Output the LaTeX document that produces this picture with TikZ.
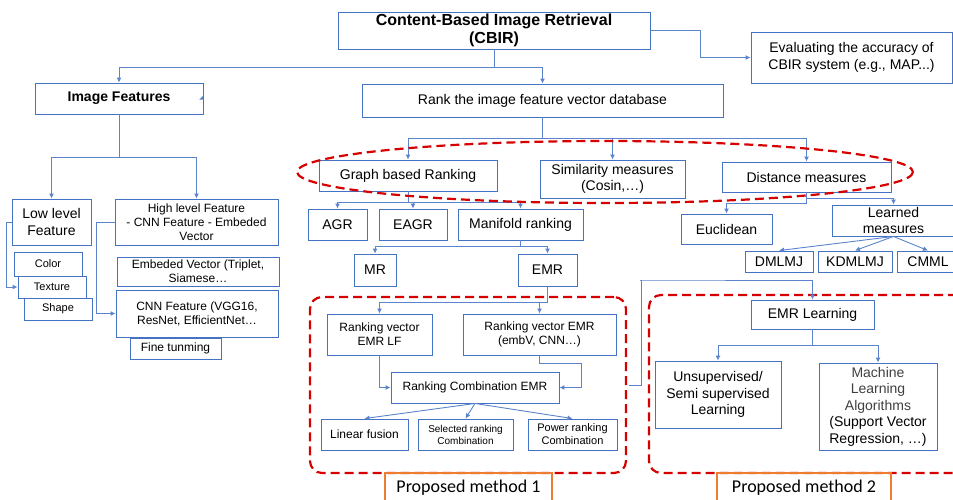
\documentclass[tikz,border=0pt]{standalone}
\usepackage{fontspec}
\setmainfont{Liberation Sans}
\newfontfamily\calibri{Carlito}
\usetikzlibrary{arrows.meta, positioning, shapes}
\usepackage{xcolor}

\definecolor{boxblue}{HTML}{4472C4}
\definecolor{linkblue}{HTML}{5B84CC}
\definecolor{dashred}{HTML}{D60000}
\definecolor{frameorange}{HTML}{ED7D31}
\definecolor{softgray}{HTML}{404040}

\tikzset{
  box/.style={draw=boxblue, line width=0.9pt, align=center, inner sep=1pt, fill=white,
    font=\fontsize{14}{16.5}\selectfont},
  mediumtext/.style={font=\fontsize{12}{14}\selectfont},
  smalltext/.style={font=\fontsize{11}{13}\selectfont},
  link/.style={draw=linkblue, line width=0.9pt, -{Latex[length=5pt,width=5pt]}},
  redframe/.style={draw=dashred, line width=2.2pt, dash pattern=on 9pt off 5pt, rounded corners=12pt},
  methodlabel/.style={draw=frameorange, line width=2pt, inner sep=0pt,
    font=\calibri\fontsize{18}{20}\selectfont},
}

\begin{document}
\begin{tikzpicture}[x=1pt,y=-1pt]
    \useasboundingbox (0,0) rectangle (953,499);
    \clip (0,0) rectangle (953,499);

    % top level
    \node[box, minimum width=312, minimum height=37, font=\fontsize{16}{18}\selectfont\bfseries] (cbir) at (494,30.5) {Content-Based Image Retrieval\\(CBIR)};
    \node[box, minimum width=201, minimum height=51] (eval) at (851.5,57.5) {Evaluating the accuracy of\\CBIR system (e.g., MAP...)};
    \node[box, minimum width=168, minimum height=31, font=\fontsize{14}{16}\selectfont\bfseries] (imgfeat) at (119,98.5) {Image Features};
    \node[box, minimum width=361, minimum height=33] (rank) at (542.5,100.5) {Rank the image feature vector database};

    % image features
    \node[box, minimum width=79, minimum height=46] (low) at (51.5,222) {Low level\\Feature};
    \node[box, minimum width=163, minimum height=46, mediumtext] (high) at (196.5,222) {High level Feature\\- CNN Feature - Embeded\\Vector};
    \node[box, minimum width=68, minimum height=24, smalltext] (color) at (48,264) {Color};
    \node[box, minimum width=68, minimum height=22, smalltext] (texture) at (52,287) {Texture};
    \node[box, minimum width=68, minimum height=22, smalltext] (shape) at (58,309) {Shape};
    \node[box, minimum width=162, minimum height=29, mediumtext] (embv) at (198,271.5) {Embeded Vector (Triplet,\\Siamese…};
    \node[box, minimum width=162, minimum height=47, mediumtext] (cnnf) at (197,313.5) {CNN Feature (VGG16,\\ResNet, EfficientNet…};
    \node[box, minimum width=91, minimum height=21, mediumtext] (fine) at (175.5,348.5) {Fine tunming};

    % ranking
    \node[box, minimum width=178, minimum height=31] (graph) at (408,175.5) {Graph based Ranking};
    \node[box, minimum width=145, minimum height=38] (simil) at (612.5,179) {Similarity measures\\(Cosin,…)};
    \node[box, minimum width=169, minimum height=30] (dist) at (806.5,177) {Distance measures};
    \node[box, minimum width=59, minimum height=31] (agr) at (337.5,224.5) {AGR};
    \node[box, minimum width=68, minimum height=31] (eagr) at (413,224.5) {EAGR};
    \node[box, minimum width=125, minimum height=31] (manif) at (520.5,224.5) {Manifold ranking};
    \node[box, minimum width=42, minimum height=32] (mr) at (375,270) {MR};
    \node[box, minimum width=59, minimum height=32] (emr) at (547.5,270) {EMR};
    \node[box, minimum width=91, minimum height=30] (eucl) at (726.5,229) {Euclidean};
    \node[box, minimum width=123, minimum height=31] (learned) at (893.5,220.5) {Learned\\measures};
    \node[box, minimum width=68, minimum height=21] (dmlmj) at (779,261.5) {DMLMJ};
    \node[box, minimum width=74, minimum height=21] (kdmlmj) at (855,261.5) {KDMLMJ};
    \node[box, minimum width=62, minimum height=21] (cmml) at (928,261.5) {CMML};

    % proposed method 1
    \node[redframe, minimum width=316, minimum height=176] (frame1) at (468,385) {};
    \node[box, minimum width=105, minimum height=41, mediumtext] (lf) at (379.5,334.5) {Ranking vector\\EMR LF};
    \node[box, minimum width=153, minimum height=41, mediumtext] (rvemr) at (539.5,334.5) {Ranking vector EMR\\(embV, CNN…)};
    \node[box, minimum width=168, minimum height=31, mediumtext] (rcomb) at (475,387.5) {Ranking Combination EMR};
    \node[box, minimum width=87, minimum height=31, mediumtext] (linf) at (364.5,434.5) {Linear fusion};
    \node[box, minimum width=95, minimum height=31, font=\fontsize{10}{12}\selectfont] (selr) at (465.5,434.5) {Selected ranking\\Combination};
    \node[box, minimum width=89, minimum height=31, smalltext] (powr) at (572.5,434.5) {Power ranking\\Combination};
    \node[methodlabel, minimum width=167, minimum height=30] (pm1) at (468.5,488) {Proposed method 1};

    % proposed method 2
    \node[redframe, minimum width=320, minimum height=178] (frame2) at (809,384) {};
    \node[box, minimum width=123, minimum height=29] (emrl) at (812.5,314.5) {EMR Learning};
    \node[box, minimum width=126, minimum height=67] (unsup) at (718,394.5) {Unsupervised/\\Semi supervised\\Learning};
    \node[box, minimum width=118, minimum height=87] (mla) at (878,406.5) {\textcolor{softgray}{Machine}\\\textcolor{softgray}{Learning}\\\textcolor{softgray}{Algorithms}\\(Support Vector\\Regression, …)};
    \node[methodlabel, minimum width=174, minimum height=30] (pm2) at (804,488) {Proposed method 2};

    % connectors
    \draw[link] (cbir.south) -- ++(0,18) -| (imgfeat.north);
    \draw[link] (cbir.south) -- ++(0,18) -| (rank.north);
    \draw[link] (cbir.east) -- ++(50,0) |- (eval.west);
    \fill[linkblue] ([xshift=-4pt,yshift=-1pt]imgfeat.east) -- ([yshift=3pt]imgfeat.east) -- ([yshift=-1pt]imgfeat.east) -- cycle;

    \draw[link] (imgfeat.south) -- ++(0,43) -| (low.north);
    \draw[link] (imgfeat.south) -- ++(0,43) -| (high.north);
    \draw[link] (low.west) -- ++(-5,0) |- (texture.west);
    \draw[link] (high.west) -- ++(-18,0) |- (cnnf.west);

    \foreach \n in {graph, simil, dist}
        \draw[link] (rank.south) -- ++(0,21) -| (\n.north);
    \foreach \n in {agr, eagr, manif}
        \draw[link] (graph.south) -- ++(0,11) -| (\n.north);
    \foreach \n in {mr, emr}
        \draw[link] (manif.south) -- ++(0,6) -| (\n.north);
    \draw[link] (dist.south) -- ++(0,11) -| (eucl.north);
    \draw[link] (dist.south) -- ++(0,6) -| (learned.north);
    \foreach \n in {dmlmj, kdmlmj, cmml}
        \draw[link] (learned.south) -- (\n.north);

    \foreach \n in {lf, rvemr}
        \draw[link] (emr.south) -- ++(0,16) -| (\n.north);
    \draw[link] (lf.south) |- (rcomb.west);
    \draw[link] (rvemr.south) -- ++(0,8) -- ++(42,0) |- (rcomb.east);
    \foreach \n in {linf, selr, powr}
        \draw[link] (rcomb.south) -- (\n.north);

    \draw[link] ([xshift=2pt]frame1.east) -- ++(12,0) |- (640,280) -| (emrl.north);
    \foreach \n in {unsup, mla}
        \draw[link] (emrl.south) -- ++(0,16) -| (\n.north);

    % measures group
    \draw[draw=dashred, line width=2.2pt, dash pattern=on 9pt off 5pt] (605,172) ellipse [x radius=308, y radius=31];
\end{tikzpicture}
\end{document}
